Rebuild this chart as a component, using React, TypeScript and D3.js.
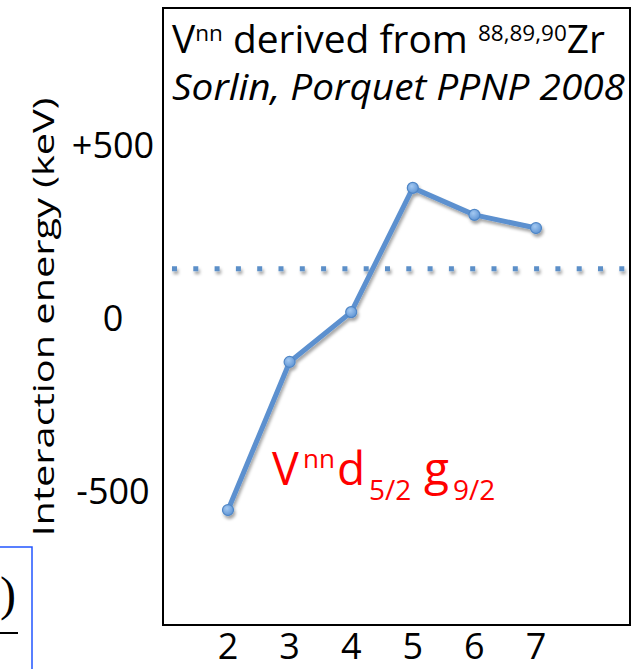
import React from "react";
import * as d3 from "d3";

// Number of neutrons / orbital index on the horizontal axis
const orbitals = [2, 3, 4, 5, 6, 7];
// Interaction energy (keV) for each point
const energies = [-555, -127, 17, 376, 298, 260];
// Horizontal dotted reference level (keV)
const referenceLevel = [142];
// Y axis tick values and their labels
const yTicks = [500, 0, -500];
const yTickLabels = ["+500", "0", "-500"];

const W = 632;
const H = 669;

const FONT = "'Open Sans', 'Noto Sans', sans-serif";

export default function App() {
  const x = d3.scaleLinear().domain([2, 7]).range([228, 536]);
  const y = d3.scaleLinear().domain([-500, 500]).range([491, 145]);

  const pts = orbitals.map((o, i) => [x(o), y(energies[i])] as [number, number]);
  const line = d3.line<[number, number]>()(pts) || "";

  const frame = { left: 163, right: 630, top: 8, bottom: 625 };

  return (
    <svg
      width={W}
      height={H}
      viewBox={`0 0 ${W} ${H}`}
      style={{ position: "absolute", left: 0, top: 0, background: "#fff" }}
    >
      <defs>
        <filter id="shadow" filterUnits="userSpaceOnUse" x={0} y={0} width={W} height={H}>
          <feDropShadow dx="1.5" dy="3" stdDeviation="1.8" floodColor="#000" floodOpacity="0.35" />
        </filter>
        <radialGradient id="marker" cx="40%" cy="35%" r="70%">
          <stop offset="0%" stopColor="#a3c8f1" />
          <stop offset="100%" stopColor="#5b92d3" />
        </radialGradient>
      </defs>

      {/* plot frame */}
      <rect
        x={frame.left}
        y={frame.top}
        width={frame.right - frame.left}
        height={frame.bottom - frame.top}
        fill="none"
        stroke="#000"
        strokeWidth={2}
      />

      {/* header text */}
      <text x={172} y={53} fontFamily={FONT} fontSize={38} fill="#000" textLength={433} lengthAdjust="spacingAndGlyphs">
        V<tspan fontSize={22} dy={-12}>nn</tspan>
        <tspan dy={12}> derived from </tspan>
        <tspan fontSize={22} dy={-12}>88,89,90</tspan>
        <tspan dy={12}>Zr</tspan>
      </text>
      <text
        x={172}
        y={100}
        fontFamily={FONT}
        fontSize={36}
        fontStyle="italic"
        fill="#000"
        textLength={453}
        lengthAdjust="spacingAndGlyphs"
      >
        Sorlin, Porquet PPNP 2008
      </text>

      {/* dotted reference level */}
      <g filter="url(#shadow)">
        {referenceLevel.map((v, i) => (
          <line
            key={i}
            x1={172}
            x2={W}
            y1={y(v)}
            y2={y(v)}
            stroke="#5b8fc8"
            strokeWidth={5}
            strokeDasharray="5 16.3"
          />
        ))}
      </g>

      {/* data line */}
      <g filter="url(#shadow)">
        <path d={line} fill="none" stroke="#5b90cf" strokeWidth={5} strokeLinejoin="round" />
        {pts.map(([px, py], i) => (
          <circle key={i} cx={px} cy={py} r={5.5} fill="url(#marker)" stroke="#4f86c6" strokeWidth={1.2} />
        ))}
      </g>

      {/* red orbital label */}
      <text y={485} fontFamily={FONT} fill="#ff0000" fontSize={45}>
        <tspan x={272}>V</tspan>
        <tspan x={303} fontSize={26} dy={-17}>nn</tspan>
        <tspan x={337} fontSize={46} dy={17}>d</tspan>
        <tspan x={369} fontSize={28} dy={15}>5/2</tspan>
        <tspan x={424} fontSize={46} dy={-15}>g</tspan>
        <tspan x={453} fontSize={28} dy={15}>9/2</tspan>
      </text>

      {/* y tick labels */}
      {yTicks.map((t, i) => (
        <text
          key={t}
          x={113}
          y={y(t)}
          dy="0.36em"
          textAnchor="middle"
          fontFamily={FONT}
          fontSize={36}
          fill="#000"
        >
          {yTickLabels[i]}
        </text>
      ))}

      {/* y axis title */}
      <text
        transform={`translate(54, 317) rotate(-90)`}
        textAnchor="middle"
        fontFamily={FONT}
        fontSize={30}
        fill="#000"
        textLength={439}
        lengthAdjust="spacingAndGlyphs"
      >
        Interaction energy (keV)
      </text>

      {/* x tick labels */}
      {orbitals.map((o) => (
        <text key={o} x={x(o)} y={659} textAnchor="middle" fontFamily={FONT} fontSize={36} fill="#000">
          {o}
        </text>
      ))}

      {/* neighbouring equation box, partly visible at the lower left */}
      <rect x={-10} y={547} width={42} height={140} fill="none" stroke="#2255ff" strokeWidth={1.5} />
      <text x={0} y={610} fontFamily="'Liberation Serif', 'DejaVu Serif', serif" fontSize={48} fill="#000">
        {")"}
      </text>
      <line x1={0} x2={18} y1={633} y2={633} stroke="#000" strokeWidth={2} />
    </svg>
  );
}
